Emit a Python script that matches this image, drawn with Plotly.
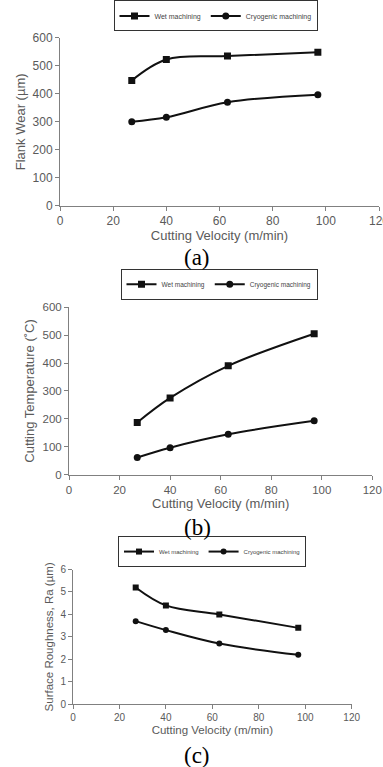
import plotly.graph_objects as go

velocity = [27, 40, 63, 97]
flank_wet = [448, 523, 535, 549]
flank_cryo = [300, 316, 370, 397]
temp_wet = [187, 275, 390, 505]
temp_cryo = [62, 97, 145, 193]
rough_wet = [5.2, 4.4, 4.0, 3.4]
rough_cryo = [3.7, 3.3, 2.7, 2.2]

names = ["Wet machining", "Cryogenic machining"]
x_ticks = [0, 20, 40, 60, 80, 100, 120]
captions = ["(a)", "(b)", "(c)"]
y_titles = ["Flank Wear (µm)", "Cutting Temperature (˚C)", "Surface Roughness, Ra (µm)"]
x_title = "Cutting Velocity (m/min)"

W, H = 383, 767
def px(x):
    return x / W
def py(y):
    return 1 - y / H

panels = [
    dict(series=(flank_wet, flank_cryo), xd=(60, 379), yd=(204.3, 36), yr=[0, 600], dt=100,
         tick=12, title=13, msize=7, leg=(215.5, 14), legfont=7, cap=256, ystand=4, xstand=3),
    dict(series=(temp_wet, temp_cryo), xd=(69, 372.3), yd=(474, 306), yr=[0, 600], dt=100,
         tick=11.5, title=13, msize=7, leg=(219, 283), legfont=6.5, cap=527, ystand=4, xstand=3),
    dict(series=(rough_wet, rough_cryo), xd=(73, 351.7), yd=(704, 569), yr=[0, 6], dt=1,
         tick=10, title=11.5, msize=6, leg=(212, 551), legfont=6, cap=755, ystand=4, xstand=3),
]

fig = go.Figure()
gray = "#5a5a5a"
axis_gray = "#808080"
layout = dict(width=W, height=H, margin=dict(l=0, r=0, t=0, b=0), template="none",
              paper_bgcolor="white", plot_bgcolor="white", showlegend=True,
              font=dict(family="Liberation Sans", color=gray))
annotations = []
for i, p in enumerate(panels):
    k = "" if i == 0 else str(i + 1)
    legname = "legend" + k
    for j, (vals, sym) in enumerate(zip(p["series"], ["square", "circle"])):
        fig.add_trace(go.Scatter(
            x=velocity, y=vals, name=names[j], mode="lines+markers",
            line=dict(color="#111111", width=2, shape="spline", smoothing=1),
            marker=dict(symbol=sym, size=p["msize"], color="#111111"),
            xaxis="x" + k, yaxis="y" + k, legend=legname))
    layout["xaxis" + k] = dict(
        domain=[px(p["xd"][0]), px(p["xd"][1])], range=[0, 120], tickvals=x_ticks,
        anchor="y" + k, showgrid=False, zeroline=False, showline=True, linecolor=axis_gray,
        linewidth=1, ticks="outside", ticklen=4, tickcolor=axis_gray, automargin=False,
        ticklabeloverflow="allow",
        tickfont=dict(size=p["tick"], color=gray),
        title=dict(text=x_title, font=dict(size=p["title"], color=gray), standoff=p["xstand"]))
    layout["yaxis" + k] = dict(
        domain=[py(p["yd"][0]), py(p["yd"][1])], range=p["yr"], dtick=p["dt"],
        anchor="x" + k, showgrid=False, zeroline=False, showline=True, linecolor=axis_gray,
        linewidth=1, ticks="outside", ticklen=4, tickcolor=axis_gray, automargin=False,
        tickfont=dict(size=p["tick"], color=gray),
        title=dict(text=y_titles[i], font=dict(size=p["title"], color=gray), standoff=p["ystand"]))
    layout[legname] = dict(
        orientation="h", x=px(p["leg"][0]), y=py(p["leg"][1]), xanchor="center", yanchor="middle",
        bordercolor="#333333", borderwidth=1, bgcolor="white", itemwidth=30,
        font=dict(size=p["legfont"], color="#444444"), tracegroupgap=0)
    annotations.append(dict(text=captions[i], x=px(197), y=py(p["cap"]), xref="paper", yref="paper",
                            xanchor="center", yanchor="middle", showarrow=False,
                            font=dict(family="Liberation Serif", size=23, color="#000000")))
layout["annotations"] = annotations
fig.update_layout(**layout)
fig.write_html("out.html", config={"displayModeBar": False},
               post_script="document.body.style.margin='0';document.body.style.overflow='hidden';")
